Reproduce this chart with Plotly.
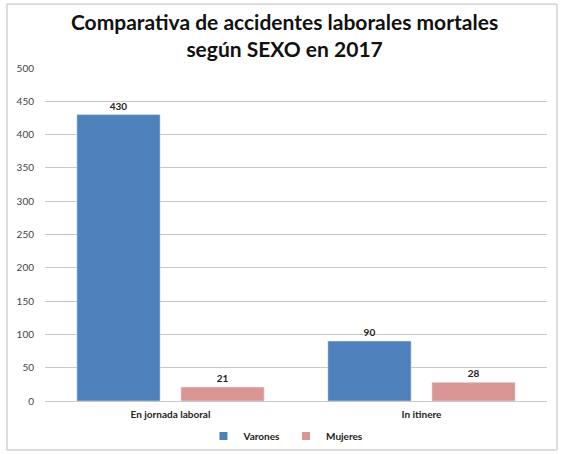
import plotly.graph_objects as go

categories = ["En jornada laboral", "In itinere"]
varones = [430, 90]
mujeres = [21, 28]
y_ticks = [0, 50, 100, 150, 200, 250, 300, 350, 400, 450, 500]

font_fam = "Lato, Open Sans, sans-serif"
c_var = "#4F81BD"
c_muj = "#DA9694"

fig = go.Figure()
fig.add_trace(go.Bar(name="Varones", x=categories, y=varones, marker_color=c_var,
                     text=["<b>%d</b>" % v for v in varones], textposition="outside",
                     textfont=dict(size=10, color="#222222", family=font_fam), cliponaxis=False,
                     showlegend=False))
fig.add_trace(go.Bar(name="Mujeres", x=categories, y=mujeres, marker_color=c_muj,
                     text=["<b>%d</b>" % v for v in mujeres], textposition="outside",
                     textfont=dict(size=10, color="#222222", family=font_fam), cliponaxis=False,
                     showlegend=False))
# legend entries with small square symbols
fig.add_trace(go.Scatter(name="<b>Varones</b>", x=[None], y=[None], mode="markers",
                         marker=dict(symbol="square", size=8, color=c_var)))
fig.add_trace(go.Scatter(name="<b>Mujeres</b>", x=[None], y=[None], mode="markers",
                         marker=dict(symbol="square", size=8, color=c_muj)))

fig.update_layout(
    width=568, height=454,
    margin=dict(l=45, r=21, t=68, b=53, autoexpand=False),
    paper_bgcolor="white", plot_bgcolor="white",
    barmode="group", bargap=0.171, bargroupgap=0.2,
    title=dict(text="<b>Comparativa de accidentes laborales mortales<br>según SEXO en 2017</b>",
               x=0.501, xanchor="center", y=0.935, yanchor="middle",
               font=dict(size=21, color="#111111", family=font_fam)),
    font=dict(family=font_fam, color="#333333"),
    legend=dict(orientation="h", x=0.48, xanchor="center", y=-0.105, yanchor="middle",
                font=dict(size=10, color="#222222"), itemwidth=30, traceorder="normal",
                bgcolor="rgba(0,0,0,0)"),
    showlegend=True,
    shapes=[dict(type="rect", xref="paper", yref="paper", x0=-0.0757, x1=1.020, y0=-0.147, y1=1.192,
                 line=dict(color="#BBBBBB", width=1), fillcolor="rgba(0,0,0,0)", layer="below")],
)
fig.update_yaxes(range=[0, 500], tickvals=y_ticks, showgrid=True, gridcolor="#C8C8C8", gridwidth=1,
                 zeroline=False, tickfont=dict(size=10, color="#444444"), ticks="", ticklabelstandoff=10)
fig.update_xaxes(showline=True, linecolor="#C8C8C8", linewidth=1,
                 tickfont=dict(size=10, color="#222222"), ticks="", ticklabelstandoff=4,
                 tickvals=categories, ticktext=["<b>" + c + "</b>" for c in categories])

fig.write_html("out.html")
